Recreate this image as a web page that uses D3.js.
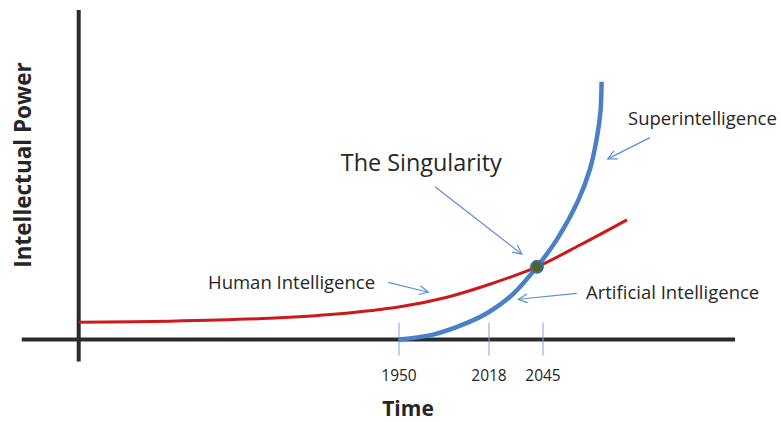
<!DOCTYPE html>
<html>
<head>
<meta charset="utf-8">
<title>The Singularity</title>
<style>
  body { margin: 0; background: #fff; }
  text { font-family: "Open Sans", sans-serif; fill: #262626; }
</style>
</head>
<body>
<script src="https://cdn.jsdelivr.net/npm/d3@7/dist/d3.min.js"></script>
<script>
// values (x in years, y in arbitrary "power" units)
var tickYears = [1950, 2018, 2045];

var humanYears = [1708, 1777, 1852.5, 1903, 1950.8, 1985.5, 2018, 2042, 2063.5, 2087];
var humanPower = [6.6, 7.05, 8.2, 9.8, 12.6, 16.2, 21.2, 28, 36.4, 46.1];

var aiYears = [1950, 1975.7, 2001.4, 2018, 2030, 2042, 2052, 2062.5, 2068.5, 2072, 2073.75, 2074.3];
var aiPower = [0, 1.9, 6.4, 10.6, 17.5, 28, 38.6, 53.4, 65.7, 78, 87.9, 99.3];

var singularityYear = 2042, singularityPower = 28;

// annotation text + arrow (from -> to) in data units
var labelText   = ["The Singularity", "Superintelligence", "Human Intelligence", "Artificial Intelligence"];
var labelYear   = [1906, 2087.5, 1805.7, 2066.5];
var labelPower  = [64.9, 82.7, 19.5, 15.6];
var arrowFrom   = [[1977.2, 58.9], [2098.5, 77.8], [1941.9, 22.0], [2061.9, 17.8]];
var arrowTo     = [[2034.4, 32.9], [2077.4, 69.6], [1972.1, 18.2], [2032.7, 15.5]];

var width = 781, height = 422;

// the schematic time axis is not linear, so use a piecewise scale
var x = d3.scaleLinear().domain(tickYears).range([399, 489, 543]);
var y = d3.scaleLinear().domain([0, 100]).range([339.5, 80]);

var svg = d3.select("body").append("svg")
    .attr("width", width)
    .attr("height", height);

var defs = svg.append("defs");
defs.append("marker")
    .attr("id", "arrow")
    .attr("markerUnits", "userSpaceOnUse")
    .attr("markerWidth", 12).attr("markerHeight", 12)
    .attr("refX", 10).attr("refY", 5)
    .attr("orient", "auto")
  .append("path")
    .attr("d", "M1,0.5 L10,5 L1,9.5")
    .attr("fill", "none")
    .attr("stroke", "#5b8ed6")
    .attr("stroke-width", 1.2);

// axes
var axisColor = "#2b2b2b";
svg.append("line")
    .attr("x1", x(1665)).attr("x2", x(2141))
    .attr("y1", y(0)).attr("y2", y(0))
    .attr("stroke", axisColor).attr("stroke-width", 4);
svg.append("line")
    .attr("x1", x(1708)).attr("x2", x(1708))
    .attr("y1", y(-8.5)).attr("y2", y(127))
    .attr("stroke", axisColor).attr("stroke-width", 4);

// ticks
var ticks = svg.append("g").attr("id", "ticks");
ticks.selectAll("line").data(tickYears).enter().append("line")
    .attr("x1", function (d) { return x(d); })
    .attr("x2", function (d) { return x(d); })
    .attr("y1", y(0) - 17).attr("y2", y(0) + 16)
    .attr("stroke", "#7fa3dc").attr("stroke-width", 1);
ticks.selectAll("text").data(tickYears).enter().append("text")
    .attr("x", function (d) { return x(d); })
    .attr("y", y(0) + 41)
    .attr("text-anchor", "middle")
    .attr("font-size", 15.5)
    .text(function (d) { return d; });

// axis titles
svg.append("text")
    .attr("x", x(1950) + 9).attr("y", 416)
    .attr("text-anchor", "middle")
    .attr("font-size", 21).attr("font-weight", "bold")
    .text("Time");
svg.append("text")
    .attr("transform", "translate(31," + 165 + ") rotate(-90)")
    .attr("text-anchor", "middle")
    .attr("font-size", 22.5).attr("font-weight", "bold")
    .text("Intellectual Power");

// curves
var line = d3.line()
    .x(function (d) { return x(d[0]); })
    .y(function (d) { return y(d[1]); })
    .curve(d3.curveCatmullRom.alpha(0.5));

svg.append("path")
    .datum(d3.zip(humanYears, humanPower))
    .attr("d", line)
    .attr("fill", "none")
    .attr("stroke", "#cc1a1a").attr("stroke-width", 3);

svg.append("path")
    .datum(d3.zip(aiYears, aiPower))
    .attr("d", line)
    .attr("fill", "none")
    .attr("stroke", "#4a80c6").attr("stroke-width", 4.5);

svg.append("circle")
    .attr("cx", x(singularityYear)).attr("cy", y(singularityPower))
    .attr("r", 6)
    .attr("fill", "#4f6228")
    .attr("stroke", "#3e6fb0").attr("stroke-width", 2);

// annotations
var ann = svg.append("g").attr("id", "annotations");
ann.selectAll("line").data(d3.range(labelText.length)).enter().append("line")
    .attr("x1", function (i) { return x(arrowFrom[i][0]); })
    .attr("y1", function (i) { return y(arrowFrom[i][1]); })
    .attr("x2", function (i) { return x(arrowTo[i][0]); })
    .attr("y2", function (i) { return y(arrowTo[i][1]); })
    .attr("stroke", "#5b8ed6").attr("stroke-width", 1.2)
    .attr("marker-end", "url(#arrow)");
ann.selectAll("text").data(d3.range(labelText.length)).enter().append("text")
    .attr("x", function (i) { return x(labelYear[i]); })
    .attr("y", function (i) { return y(labelPower[i]); })
    .attr("font-size", function (i) { return i === 0 ? 23.4 : 18.5; })
    .text(function (i) { return labelText[i]; });
</script>
</body>
</html>
